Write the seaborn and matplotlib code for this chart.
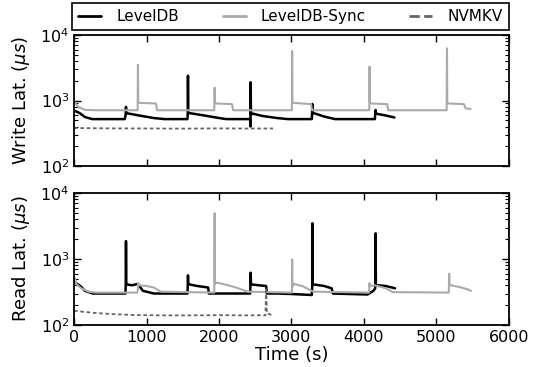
import numpy as np
import pandas as pd
import matplotlib
matplotlib.use("Agg")
import matplotlib.pyplot as plt
import seaborn as sns
from matplotlib.lines import Line2D

# ---------------- data ----------------
w_ldb_t = [0, 30, 80, 150, 250, 700, 712, 717, 722, 760, 900, 1100, 1250,
           1565, 1569, 1572, 1576, 1600, 1800, 2000, 2100,
           2430, 2434, 2437, 2441, 2470, 2600, 2800, 2950,
           3280, 3284, 3287, 3291, 3320, 3450, 3600,
           4150, 4155, 4160, 4166, 4200, 4300, 4420]
w_ldb_v = [700, 680, 640, 560, 520, 520, 600, 800, 640, 630, 590, 540, 520,
           520, 640, 2390, 640, 640, 590, 540, 520,
           520, 400, 1900, 620, 630, 580, 540, 520,
           520, 640, 885, 640, 635, 570, 520,
           520, 620, 716, 630, 620, 590, 550]

w_sync_t = [0, 20, 60, 150, 300, 878, 882, 886, 900, 1130, 1145,
            1935, 1940, 1944, 1960, 2180, 2195,
            3005, 3009, 3013, 3030, 3270, 3285,
            4073, 4077, 4081, 4100, 4320, 4335,
            5140, 5145, 5149, 5170, 5380, 5400, 5470]
w_sync_v = [960, 900, 800, 720, 710, 710, 3500, 950, 920, 900, 710,
            710, 1570, 950, 900, 880, 710,
            710, 5700, 950, 920, 880, 710,
            710, 3280, 950, 900, 880, 710,
            710, 6270, 920, 900, 880, 760, 740]

w_nvm_t = [0, 500, 1000, 1500, 2000, 2400, 2745]
w_nvm_v = [380, 375, 374, 372, 375, 373, 374]

r_ldb_t = [0, 30, 100, 150, 260, 710, 714, 717, 721, 740, 800, 880, 950, 1100,
           1565, 1569, 1572, 1576, 1600, 1700, 1850, 1860, 2000,
           2430, 2434, 2437, 2441, 2460, 2550, 2650, 2660, 2800, 3000,
           3280, 3286, 3289, 3292, 3296, 3320, 3450, 3554, 3570, 3800,
           4050, 4130, 4155, 4160, 4164, 4200, 4300, 4428]
r_ldb_v = [450, 430, 380, 330, 300, 300, 420, 1870, 420, 410, 400, 420, 330, 300,
           300, 400, 565, 420, 410, 390, 370, 300, 300,
           300, 410, 620, 410, 410, 400, 390, 300, 300, 295,
           285, 395, 3480, 400, 410, 410, 390, 360, 300, 295,
           290, 330, 360, 2450, 400, 400, 390, 360]

r_sync_t = [0, 10, 30, 100, 200, 300, 870, 880, 884, 900, 1000, 1100, 1200,
            1935, 1940, 1944, 1960, 2050, 2200, 2400,
            3005, 3009, 3013, 3030, 3150, 3300,
            4070, 4076, 4080, 4150, 4300, 4400,
            5170, 5175, 5180, 5200, 5300, 5420, 5476]
r_sync_v = [480, 520, 420, 360, 320, 310, 310, 330, 430, 400, 390, 370, 320,
            310, 4950, 420, 440, 420, 380, 320,
            310, 990, 380, 420, 390, 320,
            310, 430, 390, 400, 360, 315,
            310, 600, 420, 400, 380, 350, 330]

r_nvm_t = [0, 100, 300, 500, 800, 1200, 1600, 2000, 2400, 2600, 2640, 2645, 2650, 2660, 2745]
r_nvm_v = [165, 160, 152, 147, 142, 140, 140, 141, 140, 141, 140, 200, 370, 150, 140]

names = ["LevelDB", "LevelDB-Sync", "NVMKV"]
x_ticks = [0, 1000, 2000, 3000, 4000, 5000, 6000]

# ---------------- style ----------------
sns.set_style("ticks")
plt.rcParams["font.family"] = ["DejaVu Sans"]
plt.rcParams["mathtext.fontset"] = "dejavusans"
for k in ["text.color", "axes.labelcolor", "xtick.color", "ytick.color", "axes.edgecolor"]:
    plt.rcParams[k] = "black"

colors = {"LevelDB": "black", "LevelDB-Sync": "#aaaaaa", "NVMKV": "#666666"}
widths = {"LevelDB": 1.8, "LevelDB-Sync": 1.5, "NVMKV": 1.3}

fig = plt.figure(figsize=(5.39, 3.67), dpi=100)
ax1 = fig.add_axes([0.1373, 0.5477, 0.8070, 0.3569])
ax2 = fig.add_axes([0.1373, 0.1144, 0.8070, 0.3597])

def draw(ax, data):
    for name, (t, v) in zip(names, data):
        df = pd.DataFrame({"t": t, "v": v})
        sns.lineplot(data=df, x="t", y="v", ax=ax, color=colors[name],
                     lw=widths[name], estimator=None, legend=False)
    for ln, name in zip(ax.get_lines(), names):
        if name == "NVMKV":
            ln.set_linestyle((0, (2, 1.5)))

draw(ax1, [(w_ldb_t, w_ldb_v), (w_sync_t, w_sync_v), (w_nvm_t, w_nvm_v)])
draw(ax2, [(r_ldb_t, r_ldb_v), (r_sync_t, r_sync_v), (r_nvm_t, r_nvm_v)])

for ax in (ax1, ax2):
    ax.set_yscale("log")
    ax.set_ylim(100, 10000)
    ax.set_xlim(0, 6000)
    ax.set_xticks(x_ticks)
    ax.tick_params(which="both", direction="in", top=True, right=True,
                   labelsize=11.5, color="black", labelcolor="black")
    ax.tick_params(which="major", length=5, width=1)
    ax.tick_params(which="minor", length=3, width=0.8)
    for s in ax.spines.values():
        s.set_linewidth(1.3)
        s.set_color("black")
    ax.set_xlabel("")

ax1.set_xticklabels([])
ax1.set_ylabel(r"Write Lat. ($\mu s$)", fontsize=13)
ax2.set_ylabel(r"Read Lat. ($\mu s$)", fontsize=13)
ax2.set_xlabel("Time (s)", fontsize=13, labelpad=1)
ax1.yaxis.set_label_coords(-0.097, 0.5)
ax2.yaxis.set_label_coords(-0.097, 0.5)

h = [Line2D([], [], color=colors[n], lw=2, linestyle="--" if n == "NVMKV" else "-") for n in names]
leg = fig.legend(h, names, loc="lower left",
                 bbox_to_anchor=(0.1336, 0.9183, 0.8108, 0.0681),
                 mode="expand", ncol=3, borderaxespad=0, fancybox=False,
                 edgecolor="black", fontsize=11, handlelength=1.5,
                 handletextpad=1.0, framealpha=1)
leg.get_frame().set_linewidth(1.2)

fig.savefig("out.png", dpi=100)
